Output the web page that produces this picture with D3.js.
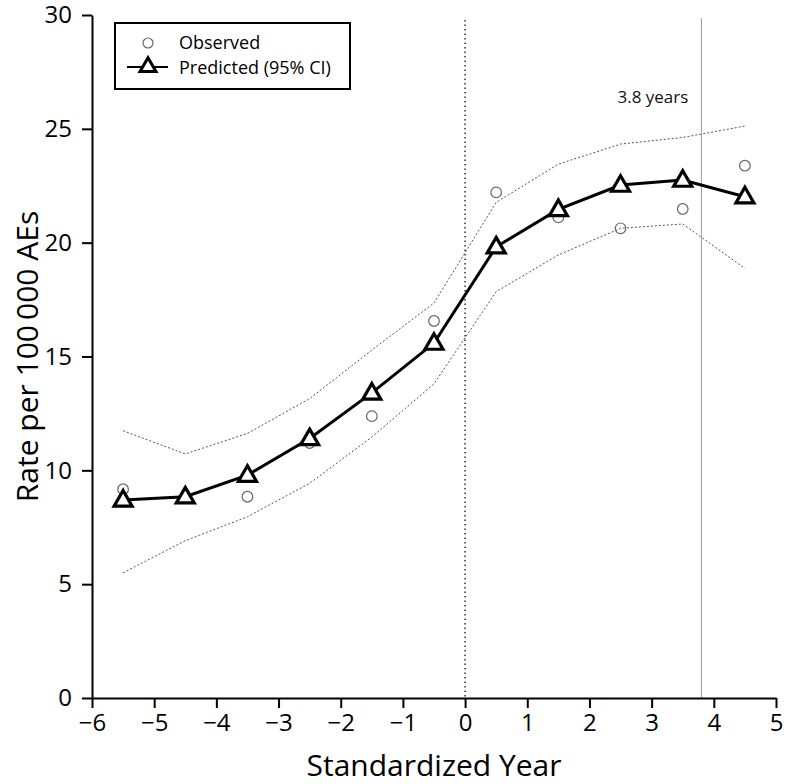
<!DOCTYPE html>
<html><head><meta charset="utf-8">
<script src="https://cdn.jsdelivr.net/npm/d3@7"></script>
<style>body{margin:0;background:#fff}svg{display:block}text{font-family:"Open Sans",sans-serif}</style>
</head><body>
<script>
const years = [-5.5,-4.5,-3.5,-2.5,-1.5,-0.5,0.5,1.5,2.5,3.5,4.5];
const observedX = [-5.5,-3.5,-2.5,-1.5,-0.5,0.5,1.5,2.5,3.5,4.5];
const observedY = [9.17,8.84,11.2,12.38,16.56,22.21,21.11,20.63,21.48,23.38];
const predicted = [8.70,8.84,9.79,11.4,13.4,15.59,19.82,21.46,22.53,22.75,22.02];
const upperCI = [11.74,10.72,11.62,13.15,15.28,17.35,21.77,23.45,24.33,24.62,25.12];
const lowerCI = [5.5,6.91,7.96,9.43,11.46,13.8,17.85,19.46,20.63,20.82,18.87];
const xTicks = [-6,-5,-4,-3,-2,-1,0,1,2,3,4,5];
const yTicks = [0,5,10,15,20,25,30];
const refLine = 3.8;

const W=787,H=784;
const svg=d3.select("body").append("svg").attr("width",W).attr("height",H);
const x=d3.scaleLinear().domain([-6,5]).range([92,776]);
const y=d3.scaleLinear().domain([0,30]).range([698,15]);

// reference lines
svg.append("line").attr("x1",x(0)).attr("x2",x(0)).attr("y1",20).attr("y2",y(0))
  .attr("stroke","#222").attr("stroke-width",1.4).attr("stroke-dasharray","1.5,3");
svg.append("line").attr("x1",x(refLine)).attr("x2",x(refLine)).attr("y1",18).attr("y2",y(0))
  .attr("stroke","#999").attr("stroke-width",1);
svg.append("text").attr("x",x(refLine)-13).attr("y",103).attr("text-anchor","end")
  .attr("font-size",17).attr("fill","#111").text("3.8 years");

// CI lines
const ln=d3.line().x((d,i)=>x(years[i])).y(d=>y(d));
[upperCI,lowerCI].forEach(arr=>{
  svg.append("path").attr("d",ln(arr)).attr("fill","none").attr("stroke","#555")
    .attr("stroke-width",1).attr("stroke-dasharray","2,2");
});

// observed circles
svg.selectAll("circle.obs").data(observedX).join("circle").attr("class","obs")
  .attr("cx",d=>x(d)).attr("cy",(d,i)=>y(observedY[i])).attr("r",5.3)
  .attr("fill","none").attr("stroke","#666").attr("stroke-width",1.2);

// predicted line
svg.append("path").attr("d",ln(predicted)).attr("fill","none").attr("stroke","#000").attr("stroke-width",3);
const tri=d3.symbol().type(d3.symbolTriangle).size(140);
svg.selectAll("path.tri").data(predicted).join("path").attr("class","tri")
  .attr("d",tri).attr("transform",(d,i)=>`translate(${x(years[i])},${y(d)+1})`)
  .attr("fill","#fff").attr("stroke","#000").attr("stroke-width",3.2).attr("stroke-linejoin","miter");

// axes
const xa=svg.append("g").attr("transform",`translate(0,${y(0)})`)
  .call(d3.axisBottom(x).tickValues(xTicks).tickSize(10).tickPadding(6).tickSizeOuter(0));
const ya=svg.append("g").attr("transform",`translate(${x(-6)},0)`)
  .call(d3.axisLeft(y).tickValues(yTicks).tickSize(10).tickPadding(10).tickSizeOuter(0));
[xa,ya].forEach(g=>{
  g.select(".domain").attr("stroke","#000").attr("stroke-width",2);
  g.selectAll(".tick line").attr("stroke","#000").attr("stroke-width",2);
  g.selectAll(".tick text").attr("font-size",24).attr("fill","#000").attr("font-family","'Open Sans',sans-serif");
});

svg.append("text").attr("x",(x(-6)+x(5))/2).attr("y",776).attr("text-anchor","middle")
  .attr("font-size",30).attr("fill","#000").text("Standardized Year");
svg.append("text").attr("transform",`translate(38,${(y(0)+y(30))/2}) rotate(-90)`).attr("text-anchor","middle")
  .attr("font-size",30).attr("fill","#000").text("Rate per 100\u2009000 AEs");

// legend
const lg=svg.append("g");
lg.append("rect").attr("x",115).attr("y",23).attr("width",235).attr("height",66)
  .attr("fill","#fff").attr("stroke","#000").attr("stroke-width",2);
lg.append("circle").attr("cx",148).attr("cy",43).attr("r",5).attr("fill","none").attr("stroke","#666").attr("stroke-width",1.2);
lg.append("line").attr("x1",127).attr("x2",168).attr("y1",67).attr("y2",67).attr("stroke","#000").attr("stroke-width",2);
lg.append("path").attr("d",d3.symbol().type(d3.symbolTriangle).size(110)).attr("transform","translate(148,67)").attr("fill","#fff").attr("stroke","#000").attr("stroke-width",3);
lg.append("text").attr("x",179).attr("y",49).attr("font-size",18).attr("fill","#000").text("Observed");
lg.append("text").attr("x",179).attr("y",74).attr("font-size",18).attr("fill","#000").text("Predicted (95% CI)");
</script>
</body></html>
